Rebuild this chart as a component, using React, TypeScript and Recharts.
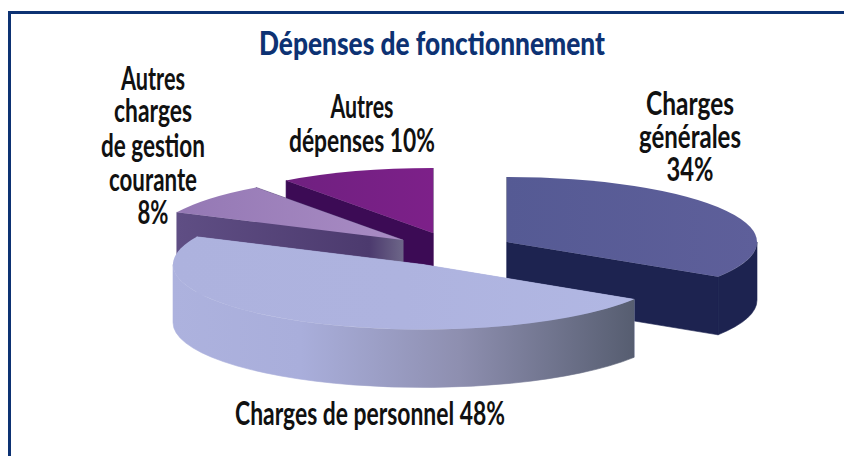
import React from "react";
import { PieChart, Pie } from "recharts";

const categories = ["Charges générales", "Autres dépenses", "Autres charges de gestion courante", "Charges de personnel"];
const percentages = [34, 10, 8, 48];
const labelLines = [
  ["Charges", "générales", "34%"],
  ["Autres", "dépenses 10%"],
  ["Autres", "charges", "de gestion", "courante", "8%"],
  ["Charges de personnel 48%"],
];
const titleText = "Dépenses de fonctionnement";

const pieData = categories.map((name, i) => ({ name, value: percentages[i], lines: labelLines[i] }));

const W = 844, H = 456;
const PIE_CX = 440, PIE_CY = 245, RX = 250, RY = 65, DEPTH = 58;
const FONT = "Lato, 'Open Sans', sans-serif";

const sliceStyle: Record<string, any> = {
  "Charges générales": { dx: 67, dy: -3, top: "url(#gGen)", side: "#1d2350", wall: "#1d2350" },
  "Autres dépenses": { dx: -7, dy: -12, top: "url(#gDep)", side: "#3c0b55", wall: "#3c0b55" },
  "Autres charges de gestion courante": { dx: -37, dy: -5, top: "url(#gAut)", side: "url(#gAutSide)", wall: "#5a4a7e" },
  "Charges de personnel": { dx: -17, dy: 19.5, top: "url(#gPer)", side: "#adb2de", wall: "url(#gPerWall)" },
};

const labelStyle: Record<string, any> = {
  "Charges générales": { x: 690, ys: [115, 148, 181], size: 33, lens: [88, 102, 47] },
  "Autres dépenses": { x: 362, ys: [118, 152], size: 33, lens: [63, 146] },
  "Autres charges de gestion courante": { x: 153, ys: [90, 122, 157, 191, 224], size: 33, lens: [64, 78, 104, 88, 31] },
  "Charges de personnel": { x: 370, ys: [425], size: 33, lens: [270] },
};

function rad(a: number) { return (a * Math.PI) / 180; }

function Slice3D(props: any) {
  const { cx, cy, startAngle, endAngle, payload, name } = props;
  const st = sliceStyle[payload?.name ?? name];
  const ox = cx + st.dx, oy = cy + st.dy;
  const pt = (a: number, d = 0) => [ox + RX * Math.cos(rad(a)), oy - RY * Math.sin(rad(a)) + d];
  const s = pt(startAngle), e = pt(endAngle);
  const large = Math.abs(endAngle - startAngle) > 180 ? 1 : 0;
  const face = (a: number) => {
    const p = pt(a);
    return `M${ox},${oy}L${p[0]},${p[1]}L${p[0]},${p[1] + DEPTH}L${ox},${oy + DEPTH}Z`;
  };
  // portion of the rim facing the viewer (angles 180..360)
  let a0 = startAngle, a1 = endAngle;
  if (a0 < 0) { a0 += 360; a1 += 360; }
  const from = Math.max(a0, 180);
  const to = Math.min(a1, 360);
  let wall = "";
  if (to > from) {
    const p = pt(from), q = pt(to);
    const lg = to - from > 180 ? 1 : 0;
    wall = `M${p[0]},${p[1]}A${RX},${RY} 0 ${lg} 0 ${q[0]},${q[1]}L${q[0]},${q[1] + DEPTH}A${RX},${RY} 0 ${lg} 1 ${p[0]},${p[1] + DEPTH}Z`;
  }
  return (
    <g>
      <path d={face(startAngle)} fill={st.side} stroke={st.side} strokeWidth={0.6} />
      <path d={face(endAngle)} fill={st.side} stroke={st.side} strokeWidth={0.6} />
      {wall && <path d={wall} fill={st.wall} stroke={st.wall} strokeWidth={0.6} />}
      <path d={`M${ox},${oy}L${s[0]},${s[1]}A${RX},${RY} 0 ${large} 0 ${e[0]},${e[1]}Z`} fill={st.top} />
    </g>
  );
}

function SliceLabel(props: any) {
  const key = props.payload?.name ?? props.name;
  const st = labelStyle[key];
  const lines: string[] = props.payload?.lines ?? props.lines ?? [];
  return (
    <g>
      {lines.map((t, i) => (
        <text key={t} x={st.x} y={st.ys[i]} textAnchor="middle" fontFamily={FONT} fontWeight={700} fontSize={st.size}
          fill="#111" textLength={st.lens[i]} lengthAdjust="spacingAndGlyphs">{t}</text>
      ))}
    </g>
  );
}

export default function App() {
  const start = 90 - (360 * percentages[0]) / 100;
  return (
    <div style={{ position: "absolute", left: 0, top: 0, width: W, height: H, background: "#fff", overflow: "hidden" }}>
      <div style={{ position: "absolute", left: 8, top: 11, width: W - 8, height: 3, background: "#0d3273" }} />
      <div style={{ position: "absolute", left: 8, top: 11, width: 3, height: H - 11, background: "#0d3273" }} />
      <div style={{ position: "absolute", left: 0, top: 0 }}>
        <PieChart width={W} height={H} margin={{ top: 0, right: 0, bottom: 0, left: 0 }}>
          <defs>
            <linearGradient id="gGen" gradientUnits="userSpaceOnUse" x1="507" y1="0" x2="757" y2="0">
              <stop offset="0" stopColor="#555a94" /><stop offset="1" stopColor="#5e5f9a" />
            </linearGradient>
            <linearGradient id="gDep" gradientUnits="userSpaceOnUse" x1="286" y1="0" x2="433" y2="0">
              <stop offset="0" stopColor="#6f2080" /><stop offset="1" stopColor="#7d2089" />
            </linearGradient>
            <linearGradient id="gAut" gradientUnits="userSpaceOnUse" x1="178" y1="0" x2="403" y2="0">
              <stop offset="0" stopColor="#9478b4" /><stop offset="1" stopColor="#a98cc4" />
            </linearGradient>
            <linearGradient id="gAutSide" gradientUnits="userSpaceOnUse" x1="178" y1="0" x2="403" y2="0">
              <stop offset="0" stopColor="#5f4e84" /><stop offset="0.85" stopColor="#4c3a6e" /><stop offset="1" stopColor="#6d6688" />
            </linearGradient>
            <linearGradient id="gPer" gradientUnits="userSpaceOnUse" x1="171" y1="0" x2="635" y2="0">
              <stop offset="0" stopColor="#adb2de" /><stop offset="0.5" stopColor="#aeb3df" /><stop offset="1" stopColor="#b1b7e3" />
            </linearGradient>
            <linearGradient id="gPerWall" gradientUnits="userSpaceOnUse" x1="171" y1="0" x2="635" y2="0">
              <stop offset="0" stopColor="#adb2de" /><stop offset="0.28" stopColor="#a9aedb" /><stop offset="0.62" stopColor="#8e8fb0" /><stop offset="1" stopColor="#565d70" />
            </linearGradient>
          </defs>
          <Pie
            data={pieData}
            dataKey="value"
            nameKey="name"
            cx={PIE_CX}
            cy={PIE_CY}
            outerRadius={RX}
            startAngle={start}
            endAngle={start + 360}
            stroke="none"
            paddingAngle={0}
            shape={Slice3D}
            label={SliceLabel}
            labelLine={false}
            isAnimationActive={false}
          />
          <text x={432} y={55} textAnchor="middle" fontFamily={FONT} fontWeight={900} fontSize={33} fill="#0d3273"
            textLength={346} lengthAdjust="spacingAndGlyphs">{titleText}</text>
        </PieChart>
      </div>
    </div>
  );
}
